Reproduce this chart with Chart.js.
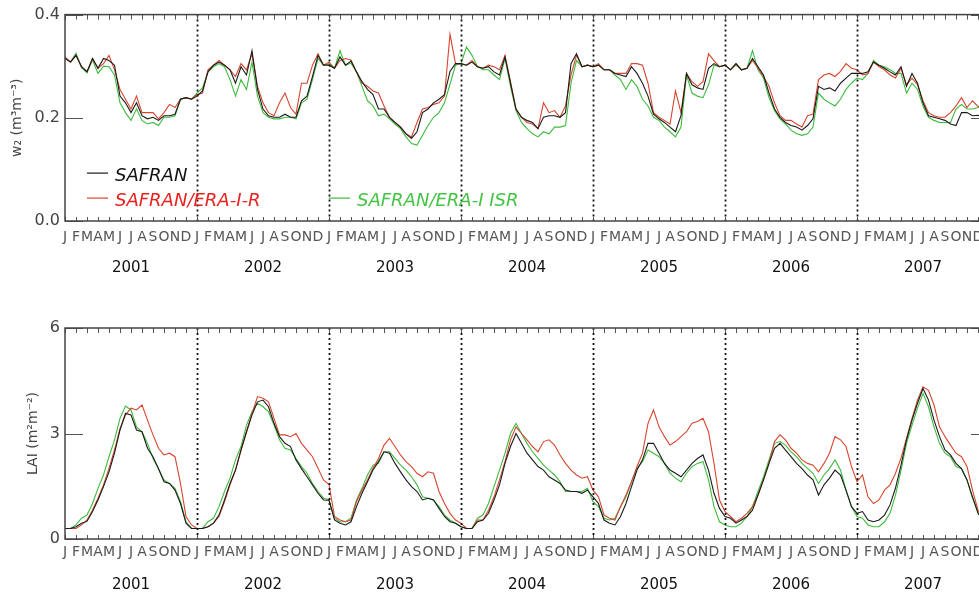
<!DOCTYPE html>
<html>
<head>
<meta charset="utf-8">
<script src="https://cdn.jsdelivr.net/npm/chart.js@4.4.1/dist/chart.umd.min.js"></script>
<style>
  html, body { margin: 0; padding: 0; background: #fff; overflow: hidden; }
  #wrap { position: relative; width: 979px; height: 596px; overflow: hidden; }
  canvas { position: absolute; left: 0; }
  #c1 { top: 0; }
  #c2 { top: 300px; }
</style>
</head>
<body>
<div id="wrap">
  <canvas id="c1" width="1000" height="300"></canvas>
  <canvas id="c2" width="1000" height="296"></canvas>
</div>
<script>
// month letters and years on the time axis
const months = ["J","F","M","A","M","J","J","A","S","O","N","D"];
const years = ["2001","2002","2003","2004","2005","2006","2007"];
const step = 0.5; // one value every half month, from Jan 2001

// soil moisture w2 (m3/m3)
const w2Safran = [
  0.315,0.308,0.321,0.299,0.289,0.315,0.296,0.315,0.311,0.302,0.242,0.229,0.210,0.229,0.204,0.198,0.201,0.195,0.204,0.204,0.207,0.236,0.239,0.236,
  0.242,0.252,0.289,0.302,0.308,0.302,0.293,0.267,0.299,0.283,0.330,0.255,0.217,0.204,0.201,0.201,0.207,0.201,0.201,0.233,0.242,0.280,0.321,0.302,
  0.302,0.296,0.318,0.302,0.310,0.289,0.270,0.255,0.245,0.217,0.217,0.201,0.191,0.182,0.169,0.160,0.173,0.210,0.217,0.229,0.236,0.245,0.290,0.305,
  0.305,0.302,0.308,0.299,0.296,0.299,0.289,0.283,0.318,0.267,0.217,0.201,0.195,0.191,0.179,0.201,0.204,0.204,0.201,0.210,0.305,0.324,0.299,0.302,
  0.299,0.302,0.293,0.293,0.286,0.283,0.280,0.299,0.286,0.267,0.242,0.207,0.198,0.191,0.182,0.173,0.204,0.286,0.264,0.258,0.255,0.296,0.305,0.299,
  0.302,0.293,0.305,0.293,0.296,0.315,0.299,0.283,0.248,0.217,0.201,0.191,0.185,0.182,0.176,0.185,0.198,0.261,0.255,0.258,0.252,0.267,0.277,0.286,
  0.286,0.286,0.289,0.308,0.302,0.296,0.289,0.283,0.299,0.261,0.286,0.267,0.229,0.204,0.201,0.198,0.195,0.188,0.185,0.210,0.210,0.204,0.205,0.200,0.200
];
const w2EraR = [
  0.318,0.308,0.321,0.299,0.290,0.315,0.296,0.305,0.321,0.293,0.255,0.236,0.217,0.242,0.210,0.210,0.210,0.198,0.210,0.226,0.220,0.236,0.239,0.236,
  0.245,0.248,0.293,0.302,0.311,0.302,0.293,0.280,0.305,0.293,0.324,0.261,0.229,0.210,0.204,0.229,0.248,0.220,0.207,0.267,0.267,0.302,0.324,0.302,
  0.308,0.296,0.311,0.315,0.312,0.289,0.267,0.261,0.252,0.248,0.223,0.201,0.191,0.182,0.169,0.163,0.191,0.217,0.220,0.226,0.229,0.242,0.362,0.305,
  0.305,0.302,0.311,0.299,0.296,0.302,0.299,0.293,0.321,0.270,0.217,0.201,0.191,0.188,0.179,0.229,0.210,0.214,0.201,0.223,0.283,0.321,0.299,0.302,
  0.299,0.305,0.293,0.293,0.286,0.286,0.286,0.305,0.305,0.302,0.267,0.210,0.201,0.195,0.188,0.252,0.210,0.286,0.270,0.261,0.270,0.324,0.311,0.299,
  0.302,0.293,0.305,0.293,0.296,0.311,0.296,0.280,0.261,0.229,0.204,0.195,0.195,0.188,0.182,0.204,0.207,0.274,0.283,0.286,0.280,0.290,0.305,0.296,
  0.293,0.283,0.286,0.308,0.299,0.293,0.283,0.277,0.296,0.264,0.277,0.264,0.233,0.210,0.204,0.201,0.201,0.210,0.223,0.239,0.220,0.233,0.222,0.222,0.220
];
const w2EraIsr = [
  0.315,0.308,0.325,0.297,0.287,0.312,0.286,0.300,0.299,0.283,0.229,0.210,0.195,0.217,0.195,0.188,0.191,0.185,0.201,0.201,0.204,0.236,0.239,0.236,
  0.248,0.258,0.289,0.299,0.305,0.299,0.274,0.242,0.274,0.255,0.308,0.242,0.210,0.201,0.198,0.198,0.201,0.201,0.198,0.229,0.236,0.274,0.315,0.302,
  0.305,0.296,0.330,0.302,0.306,0.289,0.261,0.233,0.223,0.204,0.207,0.198,0.188,0.179,0.163,0.150,0.147,0.166,0.185,0.201,0.210,0.229,0.265,0.302,
  0.305,0.337,0.321,0.299,0.293,0.293,0.283,0.274,0.315,0.261,0.214,0.191,0.179,0.169,0.163,0.173,0.169,0.182,0.182,0.185,0.267,0.311,0.299,0.302,
  0.299,0.302,0.293,0.293,0.283,0.274,0.255,0.274,0.261,0.236,0.223,0.201,0.195,0.182,0.173,0.163,0.182,0.283,0.248,0.242,0.239,0.264,0.302,0.299,
  0.302,0.293,0.302,0.293,0.296,0.330,0.293,0.277,0.239,0.214,0.198,0.188,0.176,0.169,0.166,0.169,0.182,0.248,0.236,0.229,0.223,0.236,0.255,0.267,
  0.277,0.274,0.286,0.311,0.302,0.299,0.293,0.286,0.286,0.248,0.267,0.255,0.223,0.201,0.195,0.191,0.191,0.191,0.217,0.226,0.217,0.217,0.220,0.220,0.218
];

// leaf area index (m2/m2)
const laiSafran = [
  0.3,0.3,0.35,0.45,0.5,0.78,1.11,1.49,1.91,2.44,3.1,3.57,3.53,3.1,3.05,2.58,2.34,2.0,1.63,1.58,1.39,1.01,0.45,0.3,
  0.3,0.3,0.35,0.45,0.68,1.11,1.58,1.96,2.53,3.05,3.53,3.9,3.95,3.76,3.29,2.91,2.72,2.63,2.25,2.0,1.77,1.54,1.3,1.11,
  1.1,0.54,0.45,0.4,0.49,0.92,1.3,1.63,1.96,2.2,2.48,2.44,2.15,1.91,1.68,1.49,1.35,1.11,1.16,1.11,0.87,0.64,0.49,0.45,
  0.35,0.3,0.3,0.49,0.54,0.73,1.11,1.54,2.15,2.63,3.0,2.72,2.44,2.25,2.06,1.96,1.77,1.68,1.58,1.39,1.35,1.35,1.3,1.39,
  1.2,1.01,0.54,0.45,0.4,0.64,1.01,1.49,1.96,2.25,2.72,2.72,2.44,2.15,1.96,1.87,1.77,1.96,2.15,2.29,2.39,1.96,1.3,0.87,
  0.64,0.59,0.45,0.54,0.64,0.82,1.25,1.68,2.15,2.58,2.72,2.53,2.34,2.15,2.0,1.82,1.68,1.25,1.54,1.73,1.96,1.82,1.39,0.92,
  0.73,0.78,0.54,0.49,0.54,0.68,0.97,1.45,2.1,2.82,3.38,3.86,4.28,3.95,3.38,2.91,2.53,2.39,2.15,2.0,1.68,1.2,0.73,0.5,0.4
];
const laiEraR = [
  0.3,0.3,0.3,0.4,0.54,0.82,1.16,1.54,2.01,2.53,3.14,3.53,3.72,3.67,3.81,3.38,2.96,2.58,2.39,2.44,2.34,1.58,0.64,0.4,
  0.3,0.3,0.35,0.45,0.64,1.06,1.54,1.96,2.53,3.05,3.57,4.05,4.0,3.9,3.43,2.96,2.96,2.91,3.0,2.72,2.53,2.34,2.01,1.68,
  1.55,0.64,0.54,0.49,0.54,1.06,1.39,1.68,2.01,2.29,2.67,2.86,2.63,2.39,2.2,2.06,1.87,1.77,1.91,1.87,1.35,1.01,0.73,0.54,
  0.45,0.3,0.3,0.54,0.54,0.82,1.2,1.68,2.2,2.82,3.19,3.0,2.82,2.63,2.48,2.77,2.82,2.67,2.39,2.15,1.96,1.82,1.73,1.77,
  1.39,1.2,0.68,0.59,0.54,0.92,1.25,1.63,2.06,2.44,3.29,3.67,3.19,2.91,2.67,2.77,2.91,3.05,3.29,3.34,3.43,3.05,2.15,1.11,
  0.78,0.64,0.49,0.59,0.73,0.92,1.25,1.68,2.15,2.77,2.96,2.82,2.58,2.44,2.25,2.15,2.1,1.91,2.15,2.44,2.91,2.82,2.63,2.06,
  1.63,1.82,1.2,1.01,1.11,1.39,1.54,1.87,2.3,2.86,3.43,3.95,4.33,4.23,3.81,3.19,2.91,2.67,2.44,2.34,2.06,1.39,0.82,0.55,0.45
];
const laiEraIsr = [
  0.3,0.3,0.4,0.59,0.68,1.01,1.44,1.82,2.34,2.82,3.43,3.78,3.67,3.19,3.05,2.72,2.29,2.0,1.68,1.58,1.44,1.06,0.49,0.3,
  0.3,0.3,0.49,0.59,0.92,1.35,1.73,2.25,2.63,3.24,3.62,3.86,3.76,3.62,3.24,2.82,2.58,2.53,2.29,2.06,1.87,1.58,1.35,1.16,
  1.12,0.59,0.49,0.49,0.59,1.11,1.44,1.82,2.1,2.15,2.48,2.48,2.29,2.1,1.96,1.77,1.54,1.2,1.16,1.11,0.92,0.68,0.54,0.45,
  0.35,0.3,0.3,0.59,0.68,1.01,1.49,1.96,2.44,3.0,3.29,3.0,2.72,2.48,2.29,2.1,1.96,1.82,1.63,1.35,1.35,1.35,1.35,1.44,
  1.06,0.92,0.59,0.54,0.59,0.92,1.2,1.63,2.01,2.2,2.53,2.44,2.34,2.15,1.87,1.73,1.63,1.87,2.06,2.15,2.2,1.68,0.92,0.49,
  0.4,0.35,0.35,0.45,0.64,0.92,1.35,1.77,2.25,2.72,2.77,2.67,2.48,2.34,2.15,2.01,1.87,1.58,1.82,2.0,2.25,1.96,1.39,0.92,
  0.64,0.59,0.4,0.35,0.35,0.49,0.73,1.25,1.95,2.72,3.24,3.72,4.14,3.76,3.19,2.72,2.44,2.34,2.06,2.0,1.68,1.16,0.78,0.5,0.4
];

const w2Ticks = [0, 0.2, 0.4];
const laiTicks = [0, 3, 6];

const nMonths = years.length * 12;
const FONT = "'DejaVu Sans', sans-serif";
const pts = arr => arr.map((v, i) => ({x: i * step, y: v}));

// box, inward ticks, dotted year separators
const framePlugin = {
  id: 'frame',
  afterDatasetsDraw(chart) {
    const {ctx, chartArea: a, scales: {x, y}} = chart;
    ctx.save();
    ctx.strokeStyle = '#111';
    ctx.lineWidth = 1.8;
    ctx.setLineDash([2, 3]);
    for (let k = 1; k < years.length; k++) {
      const px = Math.round(x.getPixelForValue(12 * k)) + 0.5;
      ctx.beginPath(); ctx.moveTo(px, a.top); ctx.lineTo(px, a.bottom); ctx.stroke();
    }
    ctx.setLineDash([]);
    ctx.strokeStyle = '#555';
    ctx.lineWidth = 1;
    x.ticks.forEach(t => {
      const px = Math.round(x.getPixelForValue(t.value)) + 0.5;
      ctx.beginPath();
      ctx.moveTo(px, a.top); ctx.lineTo(px, a.top + 5);
      ctx.moveTo(px, a.bottom); ctx.lineTo(px, a.bottom - 4);
      ctx.stroke();
    });
    y.ticks.forEach(t => {
      const py = Math.round(y.getPixelForValue(t.value)) + 0.5;
      ctx.beginPath();
      ctx.moveTo(a.left, py); ctx.lineTo(a.left + 18, py);
      ctx.moveTo(a.right, py); ctx.lineTo(a.right - 18, py);
      ctx.stroke();
    });
    ctx.strokeStyle = '#444';
    ctx.lineWidth = 1.5;
    ctx.strokeRect(a.left, a.top, a.right - a.left, a.bottom - a.top);
    ctx.restore();
  }
};

// the key inside the upper panel: two rows, third entry to the right
const keyPlugin = {
  id: 'seriesKey',
  afterDraw(chart, args, opts) {
    if (!opts.show) return;
    const {ctx, chartArea: a} = chart;
    const spots = [[22, 158], [22, 183], [264, 183]];
    ctx.save();
    ctx.font = 'italic 18px ' + FONT;
    ctx.textBaseline = 'alphabetic';
    chart.data.datasets.forEach((ds, i) => {
      const x0 = a.left + spots[i][0], y0 = a.top + spots[i][1];
      ctx.strokeStyle = ds.borderColor;
      ctx.lineWidth = 1.2;
      ctx.beginPath(); ctx.moveTo(x0, y0 + 0.5); ctx.lineTo(x0 + 21, y0 + 0.5); ctx.stroke();
      ctx.fillStyle = ds.keyColor;
      ctx.fillText(ds.label, x0 + 28, y0 + 8);
    });
    ctx.restore();
  }
};

function panel(id, series, yMax, yTicks, yFmt, title, titlePad, pad, monthH, monthPad, yearH, yearPad, showKey) {
  const names = ['SAFRAN', 'SAFRAN/ERA-I-R', 'SAFRAN/ERA-I ISR'];
  const lineCols = ['#1a1a1a', '#d8452f', '#3dbb3d'];
  const textCols = ['#111111', '#e8221e', '#44c444'];
  return new Chart(document.getElementById(id), {
    type: 'line',
    data: {
      datasets: series.map((s, i) => ({
        label: names[i],
        data: pts(s),
        borderColor: lineCols[i],
        keyColor: textCols[i],
        borderWidth: 1.1,
        pointRadius: 0,
        tension: 0,
        fill: false
      }))
    },
    options: {
      responsive: false,
      animation: false,
      devicePixelRatio: 1,
      layout: { padding: { top: pad, right: 11, left: 0, bottom: 0 } },
      plugins: { legend: { display: false }, tooltip: { enabled: false }, seriesKey: { show: showKey } },
      scales: {
        x: {
          type: 'linear', min: 0, max: nMonths, position: 'bottom', weight: 0,
          grid: { display: false, drawTicks: false }, border: { display: false },
          afterBuildTicks: s => { s.ticks = Array.from({length: nMonths + 1}, (_, m) => ({value: m})); },
          afterFit: s => { s.height = monthH; },
          ticks: { autoSkip: false, maxRotation: 0, padding: monthPad, color: '#555',
                   font: { family: FONT, size: 14 }, callback: v => months[v % 12] }
        },
        xYear: {
          type: 'linear', axis: 'x', min: 0, max: nMonths, position: 'bottom', weight: 1,
          grid: { display: false, drawTicks: false }, border: { display: false },
          afterBuildTicks: s => { s.ticks = years.map((_, k) => ({value: 12 * k + 6})); },
          afterFit: s => { s.height = yearH; },
          ticks: { autoSkip: false, maxRotation: 0, padding: yearPad, color: '#111',
                   font: { family: FONT, size: 15 }, callback: v => years[(v - 6) / 12] }
        },
        y: {
          min: 0, max: yMax,
          grid: { display: false, drawTicks: false }, border: { display: false },
          afterBuildTicks: s => { s.ticks = yTicks.map(v => ({value: v})); },
          afterFit: s => { s.width = 65; },
          ticks: { padding: 5, color: '#444', font: { family: FONT, size: 16 }, callback: yFmt },
          title: { display: true, text: title, color: '#444', padding: { top: titlePad, bottom: 0 },
                   font: { family: FONT, size: 14 } }
        }
      }
    },
    plugins: [framePlugin, keyPlugin]
  });
}

panel('c1', [w2Safran, w2EraR, w2EraIsr], 0.4, w2Ticks, v => v.toFixed(1),
      'w₂ (m³m⁻³)', 8.6, 10, 29, 8, 50, 9, true);
panel('c2', [laiSafran, laiEraR, laiEraIsr], 6, laiTicks, v => String(v),
      'LAI (m²m⁻²)', 24.6, 28, 26, 5, 31, 11, false);
</script>
</body>
</html>
